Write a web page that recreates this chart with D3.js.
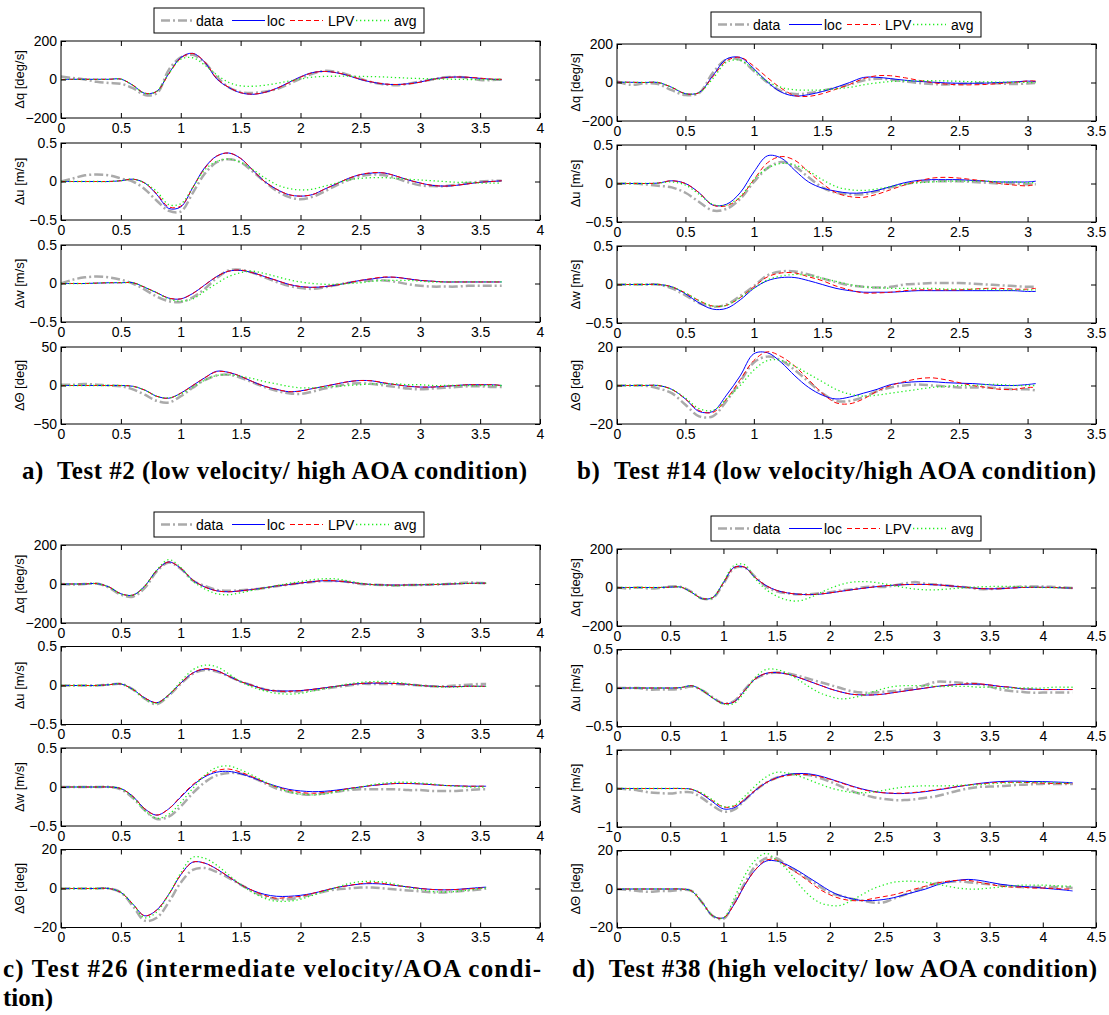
<!DOCTYPE html>
<html>
<head>
<meta charset="utf-8">
<script src="https://cdn.jsdelivr.net/npm/d3@7"></script>
<style>
  body { margin: 0; background: #fff; }
  svg text { font-family: "Liberation Sans", Arial, Helvetica, sans-serif; }
  .caption { font-family: "Liberation Serif", "Times New Roman", serif; font-weight: bold; white-space: pre; }
</style>
</head>
<body>
<script>
// ---- sample instants (s), one list per test ----
var tA = d3.range(37).map(function (i) { return i / 10; }).concat([3.68]);
var tB = d3.range(31).map(function (i) { return i / 10; }).concat([3.06]);
var tC = d3.range(36).map(function (i) { return i / 10; }).concat([3.55]);
var tD = d3.range(43).map(function (i) { return i / 10; }).concat([4.28]);

// series order in every list below: data, loc, LPV, avg
var seriesNames = ["data", "loc", "LPV", "avg"];
var yLabels = ["\u0394q [deg/s]", "\u0394u [m/s]", "\u0394w [m/s]", "\u0394\u0398 [deg]"];

// axis limits (symmetric) for q, u, w, Theta
var yLimA = [200, 0.5, 0.5, 50];
var yLimB = [200, 0.5, 0.5, 20];
var yLimC = [200, 0.5, 0.5, 20];
var yLimD = [200, 0.5, 1, 20];
var xMaxA = 4, xMaxB = 3.5, xMaxC = 4, xMaxD = 4.5;

// ---- Test #2 ----
var aQ = [
  [15,8,0,-12,-18,-22,-45,-80,-72,50,115,128,88,15,-40,-65,-70,-63,-50,-25,5,30,45,40,24,4,-15,-25,-30,-22,-10,0,12,13,8,-3,-3,0],
  [0,1,1,1,1,2,-30,-72,-61,31,114,136,90,3,-41,-69,-77,-67,-46,-16,14,36,42,35,20,0,-14,-24,-26,-22,-13,1,10,13,11,6,1,-1],
  [0,1,1,1,1,2,-29,-71,-62,28,111,135,92,6,-40,-68,-76,-67,-47,-18,12,35,42,36,21,2,-13,-23,-26,-23,-14,0,9,13,12,7,2,0],
  [0,1,1,1,1,2,-30,-72,-61,31,105,113,75,25,-15,-33,-35,-30,-20,-8,3,12,16,17,17,16,15,13,10,7,5,3,2,1,0,0,0,0]
];
var aU = [
  [0,0.04,0.08,0.09,0.08,0.04,0,-0.1,-0.25,-0.38,-0.39,-0.15,0.1,0.25,0.29,0.25,0.13,0,-0.12,-0.2,-0.23,-0.2,-0.13,-0.05,0.02,0.07,0.09,0.08,0.04,-0.01,-0.05,-0.06,-0.06,-0.04,-0.02,0,0.01,0.01],
  [0,0,0,0,0,0.01,0.03,-0.02,-0.17,-0.35,-0.33,-0.08,0.18,0.33,0.37,0.3,0.15,0,-0.1,-0.17,-0.19,-0.17,-0.1,-0.03,0.04,0.09,0.11,0.11,0.07,0.02,-0.02,-0.05,-0.06,-0.05,-0.03,-0.01,0,0.01],
  [0,0,0,0,0,0.01,0.03,-0.02,-0.16,-0.33,-0.32,-0.08,0.17,0.33,0.37,0.3,0.15,0,-0.1,-0.17,-0.19,-0.17,-0.1,-0.03,0.04,0.09,0.115,0.11,0.07,0.02,-0.02,-0.05,-0.06,-0.05,-0.03,-0.01,0,0.01],
  [0,0,0,0,0,0.01,0.03,-0.02,-0.13,-0.3,-0.29,-0.08,0.15,0.26,0.29,0.25,0.16,0.05,-0.04,-0.09,-0.11,-0.1,-0.06,-0.02,0.02,0.04,0.05,0.05,0.04,0.03,0.02,0.01,0,-0.01,-0.01,-0.02,-0.02,-0.02]
];
var aW = [
  [0,0.05,0.08,0.09,0.08,0.05,0,-0.08,-0.17,-0.23,-0.24,-0.18,-0.07,0.07,0.17,0.18,0.14,0.08,0.02,-0.03,-0.06,-0.07,-0.05,-0.02,0.01,0.03,0.04,0.04,0.02,-0.01,-0.03,-0.04,-0.04,-0.04,-0.03,-0.03,-0.03,-0.03],
  [0,0,0,0.005,0.01,0.01,0.01,-0.05,-0.12,-0.19,-0.2,-0.13,-0.02,0.09,0.16,0.17,0.14,0.09,0.04,-0.01,-0.04,-0.05,-0.04,-0.02,0.01,0.04,0.06,0.08,0.08,0.06,0.04,0.03,0.02,0.02,0.02,0.02,0.02,0.02],
  [0,0,0,0.005,0.01,0.01,0.01,-0.05,-0.12,-0.19,-0.2,-0.13,-0.02,0.09,0.16,0.175,0.14,0.09,0.04,-0.01,-0.04,-0.05,-0.04,-0.02,0.01,0.04,0.065,0.085,0.08,0.06,0.04,0.03,0.02,0.02,0.02,0.02,0.02,0.02],
  [0,0,0,0.005,0.01,0.01,0.01,-0.05,-0.12,-0.2,-0.23,-0.2,-0.1,0,0.09,0.14,0.16,0.13,0.09,0.05,0.02,0,-0.01,-0.01,0,0.01,0.03,0.04,0.04,0.04,0.03,0.02,0.02,0.02,0.02,0.02,0.02,0.02]
];
var aTh = [
  [1,1,2,1,0,-1,-5,-12,-20,-22,-14,-3,7,13,14,10,4,-2,-7,-10,-11,-8,-4,-1,2,3,2,0,-2,-4,-5,-4,-3,-2,-1,-1,-2,-2],
  [0,0,0,0,0,0,-1,-6,-14,-16.5,-10,0,10,18.5,17,12,5,-1,-5,-8,-7,-4,-1,2,5,6.5,6,3,1,-1,-2,-2,-1,0,1,1,1,0],
  [0,0,0,0,0,0,-1,-6,-14,-16.5,-10,0,10,18,17,12,5,-1,-5,-8,-7.5,-4,-1,2,5,6.5,6,3.5,1,-1,-2,-2,-1,0,1,1,1,0],
  [0,0,0,0,0,0,-1,-6,-14,-16,-11,-2,7,13,14,12,9,5,2,-1,-3,-3,-2,-1,0,1,2,2,2,1,1,0,0,0,0,0,0,0]
];

// ---- Test #14 ----
var bQ = [
  [5,-12,-5,-8,-40,-65,-55,50,120,118,60,0,-45,-60,-55,-42,-28,-10,10,20,15,5,-2,-8,-10,-8,-5,-3,-5,-8,-5,-2],
  [2,1,0,0,-25,-58,-52,35,122,130,72,2,-50,-70,-63,-47,-25,0,26,27,20,12,6,2,-2,-4,-4,-3,0,3,7,5],
  [2,1,0,0,-25,-58,-53,30,112,131,85,25,-30,-68,-72,-58,-35,-10,20,35,35,25,12,0,-8,-12,-12,-10,-5,0,8,8],
  [2,1,0,0,-25,-58,-52,20,105,115,65,5,-25,-38,-40,-38,-33,-25,-12,-2,5,8,9,9,8,6,4,3,2,1,0,0]
];
var bU = [
  [0,0,-0.01,-0.03,-0.05,-0.12,-0.24,-0.35,-0.33,-0.2,0.02,0.2,0.28,0.22,0.08,-0.05,-0.12,-0.14,-0.14,-0.1,-0.05,-0.01,0.02,0.03,0.03,0.03,0.02,0.01,0,0,-0.01,-0.01],
  [0,0,0,0.005,0.035,0,-0.12,-0.28,-0.27,-0.12,0.15,0.36,0.33,0.17,0.02,-0.06,-0.1,-0.125,-0.12,-0.09,-0.04,0.01,0.04,0.05,0.05,0.05,0.04,0.03,0.02,0.02,0.02,0.03],
  [0,0,0,0.005,0.035,0,-0.12,-0.28,-0.29,-0.18,0.05,0.27,0.35,0.3,0.15,0,-0.12,-0.17,-0.18,-0.14,-0.08,-0.02,0.03,0.07,0.08,0.07,0.05,0.03,0,-0.02,-0.03,-0.01],
  [0,0,0,0.005,0.02,-0.02,-0.14,-0.27,-0.28,-0.17,0.05,0.2,0.26,0.24,0.16,0.05,-0.04,-0.08,-0.09,-0.07,-0.04,-0.01,0.01,0.02,0.03,0.03,0.03,0.03,0.02,0.02,0.01,0.01]
];
var bW = [
  [0,0,0,0,-0.05,-0.14,-0.24,-0.29,-0.26,-0.15,-0.02,0.12,0.17,0.17,0.13,0.08,0.03,-0.01,-0.03,-0.04,-0.03,0,0.01,0.02,0.02,0.02,0.01,0,-0.01,-0.02,-0.03,-0.03],
  [0,0,0,0,-0.03,-0.12,-0.24,-0.32,-0.31,-0.2,-0.05,0.05,0.09,0.09,0.05,0,-0.05,-0.08,-0.1,-0.1,-0.1,-0.09,-0.08,-0.08,-0.08,-0.08,-0.08,-0.08,-0.08,-0.08,-0.09,-0.09],
  [0,0,0,0,-0.03,-0.11,-0.21,-0.28,-0.27,-0.17,-0.03,0.1,0.15,0.15,0.1,0.05,-0.02,-0.07,-0.11,-0.11,-0.1,-0.08,-0.07,-0.07,-0.07,-0.07,-0.06,-0.05,-0.05,-0.06,-0.06,-0.05],
  [0,0,0,0,-0.03,-0.11,-0.21,-0.28,-0.27,-0.17,-0.05,0.06,0.11,0.13,0.12,0.08,0.04,0,-0.03,-0.04,-0.05,-0.05,-0.05,-0.05,-0.06,-0.06,-0.06,-0.06,-0.07,-0.07,-0.07,-0.07]
];
var bTh = [
  [0,0,0,-1.5,-4,-10,-16,-16,-8,2,12,15,13,8,2,-4,-8,-8,-6,-3,-1,0,0.5,0,-0.5,-1,-1,-1,-1.5,-2,-2,-2.5],
  [0,0,0,0,-2,-7,-13.5,-13.5,-5,5,16.5,17,12,5,-1,-5,-7,-6,-4,-2,0.5,1.5,2,2,1.5,1.2,1,0.5,0,0,0.5,1],
  [0,0,0,0,-2,-7,-13,-14,-7,3,13,17.5,15,10,3,-4,-9,-9.5,-7,-3,0,2,3.5,4,3,1.5,0,-1,-2,-2,-1,-1],
  [0,0,0,0,-2,-6.5,-12,-13,-7,0,8,13,13,10,6,2,-2,-4.5,-5.5,-5,-4,-3,-2,-1,-0.5,0,0,0.5,0.5,0,0,0]
];

// ---- Test #26 ----
var cQ = [
  [0,-3,0,2,-18,-55,-65,-20,65,110,78,18,-10,-30,-35,-32,-28,-20,-12,-3,5,10,15,15,10,0,-3,-6,-8,-5,-5,-3,-1,3,8,5,4],
  [0,0,0,2,-15,-50,-57,-10,70,113,80,20,-15,-35,-40,-35,-28,-20,-10,-3,5,12,17,15,10,2,-3,-5,-6,-5,-4,-3,-1,1,3,4,4],
  [0,0,0,2,-15,-50,-57,-11,69,113,81,21,-15,-35,-40,-35,-28,-20,-10,-3,5,12,18,16,10,2,-3,-5,-6,-5,-4,-3,-1,1,3,4,4],
  [0,0,0,2,-15,-50,-57,-10,72,125,85,15,-25,-50,-55,-45,-32,-20,-8,3,13,22,27,26,15,4,-3,-6,-8,-6,-4,-2,0,2,3,4,4]
];
var cU = [
  [0,0,0,0,0.01,0.02,-0.05,-0.17,-0.24,-0.13,0.02,0.15,0.2,0.18,0.12,0.05,0,-0.05,-0.07,-0.08,-0.075,-0.06,-0.04,-0.02,0,0.02,0.02,0.02,0.02,0.01,0,-0.01,-0.01,0,0.01,0.02,0.02],
  [0,0,0,0,0.01,0.02,-0.05,-0.16,-0.22,-0.12,0.03,0.16,0.21,0.19,0.12,0.05,0,-0.05,-0.07,-0.07,-0.065,-0.05,-0.03,-0.01,0.01,0.025,0.03,0.03,0.025,0.015,0,-0.01,-0.015,-0.015,-0.01,-0.01,-0.01],
  [0,0,0,0,0.01,0.02,-0.05,-0.16,-0.22,-0.12,0.03,0.16,0.215,0.19,0.12,0.05,0,-0.05,-0.07,-0.075,-0.065,-0.05,-0.03,-0.01,0.01,0.025,0.035,0.03,0.025,0.015,0,-0.01,-0.015,-0.015,-0.01,-0.01,-0.01],
  [0,0,0,0,0.01,0.02,-0.05,-0.17,-0.23,-0.12,0.05,0.2,0.26,0.24,0.15,0.05,-0.02,-0.07,-0.1,-0.11,-0.1,-0.07,-0.04,-0.01,0.02,0.04,0.05,0.05,0.04,0.02,0,-0.01,-0.02,-0.02,-0.01,-0.01,-0.01]
];
var cW = [
  [0,0,0,0,0,-0.03,-0.14,-0.3,-0.41,-0.38,-0.25,-0.08,0.06,0.15,0.18,0.17,0.12,0.05,-0.02,-0.06,-0.09,-0.1,-0.08,-0.06,-0.04,-0.03,-0.03,-0.03,-0.03,-0.04,-0.04,-0.05,-0.05,-0.05,-0.04,-0.03,-0.03],
  [0,0,0,0,0,-0.02,-0.12,-0.28,-0.36,-0.28,-0.13,0.02,0.13,0.19,0.2,0.17,0.12,0.06,0.01,-0.03,-0.05,-0.06,-0.055,-0.04,-0.02,0,0.02,0.035,0.045,0.045,0.04,0.03,0.02,0.015,0.01,0.01,0.01],
  [0,0,0,0,0,-0.02,-0.12,-0.28,-0.36,-0.28,-0.12,0.03,0.14,0.21,0.23,0.19,0.13,0.06,0,-0.04,-0.07,-0.08,-0.07,-0.05,-0.02,0,0.02,0.035,0.045,0.045,0.04,0.03,0.02,0.015,0.01,0.01,0.01],
  [0,0,0,0,0,-0.02,-0.13,-0.3,-0.4,-0.35,-0.2,-0.02,0.15,0.25,0.27,0.22,0.15,0.07,0,-0.06,-0.09,-0.1,-0.09,-0.06,-0.03,0,0.03,0.05,0.06,0.06,0.05,0.04,0.02,0.01,0,0,0]
];
var cTh = [
  [0,0,0,0,0,-2,-9,-16.5,-15,-7,3,9.5,10.5,8.5,5.5,2,-1.5,-4,-5.5,-5.5,-4.5,-3,-1.5,-0.5,0,0.5,0.5,0,-0.5,-1,-1.5,-2,-2,-1.5,-1,-0.5,0],
  [0,0,0,0,0,-2,-8,-14,-11,-3,7,13.5,13,10,6,2,-1,-3,-4,-4,-3.5,-2.5,-1,0.5,1.5,2.3,2.5,2.2,1.5,0.8,0,-0.5,-0.7,-0.5,0,0.5,0.7],
  [0,0,0,0,0,-2,-8,-14,-11,-3,7,13.5,13,10,6,2,-1,-3.5,-5,-4.5,-4,-2.5,-1,0.5,1.5,2.5,3,2.5,1.5,0.8,0,-0.5,-0.7,-0.5,-0.2,0.2,0.5],
  [0,0,0,0,0,-2,-8,-15,-12,-3,8,16,15.5,12,7,2,-2,-5,-6.5,-6.5,-5.5,-3.5,-1.5,0.5,2.5,3.5,3.7,3.2,2,0.5,-0.5,-1.5,-1.8,-1.5,-0.8,0,0.3]
];

// ---- Test #38 ----
var dQ = [
  [0,-5,0,-5,-2,5,3,-22,-58,-55,20,100,103,55,5,-20,-30,-35,-35,-30,-25,-15,-10,0,5,3,10,20,28,20,15,10,5,0,-8,-8,-5,0,5,5,5,3,0,-2],
  [0,0,0,0,0,2,2,-25,-58,-52,25,105,105,50,10,-15,-28,-35,-37,-35,-28,-20,-12,-5,2,8,12,15,16,16,14,10,5,0,-5,-7,-6,-3,0,1,1,0,-2,-3],
  [0,0,0,0,0,2,2,-25,-57,-52,24,103,106,52,10,-15,-28,-35,-37,-34,-28,-20,-12,-5,2,8,12,15,16,16,14,10,5,0,-5,-7,-6,-3,0,1,1,0,-2,-3],
  [0,0,0,0,0,2,2,-25,-58,-52,30,115,118,45,-10,-45,-65,-70,-55,-30,-5,15,27,31,28,20,10,0,-8,-12,-12,-8,-4,0,3,5,6,6,4,2,0,-1,-2,-2]
];
var dU = [
  [0,0,0,-0.02,-0.02,-0.02,-0.01,0.02,-0.03,-0.12,-0.2,-0.17,-0.02,0.12,0.18,0.2,0.19,0.16,0.12,0.08,0.04,0,-0.04,-0.06,-0.06,-0.05,-0.04,-0.02,0,0.04,0.08,0.08,0.07,0.06,0.05,0.02,-0.02,-0.04,-0.05,-0.06,-0.06,-0.06,-0.06,-0.06],
  [0,0,0,0,0,0,0.005,0.03,-0.03,-0.13,-0.2,-0.18,-0.03,0.12,0.19,0.2,0.18,0.14,0.09,0.04,-0.01,-0.05,-0.08,-0.09,-0.09,-0.08,-0.06,-0.04,-0.02,0,0.02,0.035,0.045,0.05,0.05,0.04,0.02,0.01,-0.01,-0.015,-0.02,-0.02,-0.02,-0.02],
  [0,0,0,0,0,0,0.005,0.03,-0.03,-0.13,-0.2,-0.18,-0.03,0.12,0.19,0.2,0.18,0.14,0.09,0.04,-0.01,-0.05,-0.08,-0.09,-0.09,-0.08,-0.06,-0.04,-0.02,0,0.02,0.035,0.045,0.055,0.055,0.04,0.02,0.01,-0.01,-0.015,-0.02,-0.02,-0.02,-0.02],
  [0,0,0,0,0,0,0.005,0.03,-0.03,-0.13,-0.21,-0.2,-0.05,0.14,0.24,0.24,0.19,0.11,0.02,-0.06,-0.11,-0.14,-0.13,-0.1,-0.05,-0.01,0.02,0.03,0.03,0.03,0.02,0.02,0.02,0.02,0.01,0.01,0,0,0,0,0,0.01,0.01,0.01]
];
var dW = [
  [0,-0.02,-0.05,-0.1,-0.12,-0.13,-0.1,-0.1,-0.25,-0.45,-0.6,-0.55,-0.3,-0.05,0.15,0.28,0.35,0.37,0.35,0.28,0.18,0.06,-0.06,-0.15,-0.22,-0.27,-0.3,-0.3,-0.28,-0.24,-0.2,-0.13,-0.06,0,0.04,0.05,0.06,0.08,0.1,0.11,0.12,0.12,0.12,0.12],
  [0,0,0,0,0,0,0,-0.02,-0.15,-0.35,-0.53,-0.5,-0.3,-0.05,0.15,0.28,0.36,0.39,0.38,0.33,0.25,0.16,0.07,-0.01,-0.07,-0.11,-0.13,-0.13,-0.11,-0.08,-0.04,0,0.05,0.09,0.13,0.16,0.18,0.19,0.19,0.18,0.18,0.17,0.16,0.15],
  [0,0,0,0,0,0,0,-0.02,-0.14,-0.32,-0.48,-0.46,-0.28,-0.04,0.15,0.27,0.34,0.37,0.36,0.31,0.24,0.15,0.06,-0.02,-0.08,-0.11,-0.12,-0.12,-0.1,-0.07,-0.03,0.01,0.05,0.09,0.12,0.14,0.16,0.16,0.16,0.15,0.14,0.13,0.13,0.12],
  [0,0,0,0,0,0,0,-0.02,-0.12,-0.3,-0.47,-0.44,-0.2,0.07,0.3,0.42,0.4,0.33,0.23,0.12,0.02,-0.05,-0.1,-0.11,-0.09,-0.05,0,0.04,0.06,0.07,0.07,0.07,0.08,0.09,0.1,0.12,0.14,0.15,0.16,0.16,0.16,0.15,0.14,0.14]
];
var dTh = [
  [0,-0.5,-1,-1.5,-1,-1,-0.5,-1,-7,-14,-15.5,-7,3,12,16,16,12,8.5,5,1.5,-2,-3.5,-5,-6,-7,-7,-5,-3,-1,1,3,3.5,4,3.5,3,2.5,2,1.5,1,1,1,1,1,0.5],
  [0,0,0,0,0,0,0,-1,-7,-14,-15,-8,2,10,14.5,14.5,12.5,9.5,6,2.5,-1,-3.5,-5,-6,-6,-5.5,-4.5,-3,-1.5,0,2,3.5,4.5,5,4.5,3.5,2.5,1.8,1.3,1,0.5,0,-0.5,-1],
  [0,0,0,0,0,0,0,-1,-7,-14,-15,-8,2,10,15,15,11.5,8,4,0,-3,-5,-6,-6,-5,-4,-3,-1.5,0,1.5,3,4,4.5,4.5,3.5,2.5,1.5,1,1,0.5,0.5,0.3,0,0],
  [0,0,0,0,0,0,0,-1,-7,-14,-15,-5,7,15,18.5,15,10,3,-3,-7,-8.5,-8.5,-6,-3,0,2,3.5,4,4,3.5,2.5,1.5,0.5,0,0,0.5,1,1.5,2,2,2,1.8,1.5,1.5]
];

var captionA = "a)  Test #2 (low velocity/ high AOA condition)";
var captionB = "b)  Test #14 (low velocity/high AOA condition)";
var captionC1 = "c) Test #26 (intermediate velocity/AOA condi-";
var captionC2 = "tion)";
var captionD = "d)  Test #38 (high velocity/ low AOA condition)";

// ---- styles ----
var seriesStyle = [
  { color: "#aaaaaa", width: 2.5, dash: "9,3,2,3" },
  { color: "#0000ff", width: 1, dash: null },
  { color: "#ff0000", width: 1, dash: "5,3" },
  { color: "#22ee22", width: 1.3, dash: "1.3,2.7" }
];

var panels = [
  { t: tA, xMax: xMaxA, yLim: yLimA, subs: [aQ, aU, aW, aTh], x0: 61, x1: 540, top: 41, pitch: 102, h: 77, legX: 154, legY: 8 },
  { t: tB, xMax: xMaxB, yLim: yLimB, subs: [bQ, bU, bW, bTh], x0: 617, x1: 1096, top: 44, pitch: 101, h: 77, legX: 711, legY: 12 },
  { t: tC, xMax: xMaxC, yLim: yLimC, subs: [cQ, cU, cW, cTh], x0: 61, x1: 540, top: 545, pitch: 101.5, h: 78, legX: 154, legY: 512 },
  { t: tD, xMax: xMaxD, yLim: yLimD, subs: [dQ, dU, dW, dTh], x0: 617, x1: 1096, top: 549, pitch: 100.5, h: 77, legX: 711, legY: 516 }
];

var svg = d3.select("body").append("svg")
  .attr("width", 1109)
  .attr("height", 1015)
  .style("display", "block");

svg.append("rect").attr("width", 1109).attr("height", 1015).attr("fill", "#fff");

var fmt = d3.format("~g");

function styleAxis(sel, size) {
  sel.select(".domain").remove();
  sel.attr("font-size", size).attr("font-family", null);
  sel.selectAll("line").attr("stroke", "#000").attr("stroke-width", 1);
  sel.selectAll("text").attr("fill", "#000");
}

panels.forEach(function (p) {
  var x = d3.scaleLinear().domain([0, p.xMax]).range([p.x0, p.x1]);
  var xTicks = d3.range(0, p.xMax + 0.01, 0.5);

  p.subs.forEach(function (sub, k) {
    var top = p.top + k * p.pitch;
    var bottom = top + p.h;
    var lim = p.yLim[k];
    var y = d3.scaleLinear().domain([-lim, lim]).range([bottom, top]);
    var g = svg.append("g");

    // series lines
    var line = d3.line()
      .defined(function (d, i) { return i < p.t.length; })
      .x(function (d, i) { return x(p.t[i]); })
      .y(function (d) { return y(d); })
      .curve(d3.curveCatmullRom.alpha(0.5));

    sub.forEach(function (vals, s) {
      var st = seriesStyle[s];
      g.append("path")
        .attr("d", line(vals))
        .attr("fill", "none")
        .attr("stroke", st.color)
        .attr("stroke-width", st.width)
        .attr("stroke-dasharray", st.dash)
        .attr("stroke-linejoin", "round");
    });

    // axes, MATLAB style: inward ticks on all four sides
    g.append("g")
      .attr("transform", "translate(0," + bottom + ")")
      .call(d3.axisBottom(x).tickValues(xTicks).tickSizeInner(-5).tickSizeOuter(0).tickPadding(5).tickFormat(fmt))
      .call(styleAxis, 14);
    g.append("g")
      .attr("transform", "translate(0," + top + ")")
      .call(d3.axisTop(x).tickValues(xTicks).tickSizeInner(-5).tickSizeOuter(0).tickFormat(""))
      .call(styleAxis, 14);
    g.append("g")
      .attr("transform", "translate(" + p.x0 + ",0)")
      .call(d3.axisLeft(y).tickValues([-lim, 0, lim]).tickSizeInner(-5).tickSizeOuter(0).tickPadding(4).tickFormat(fmt))
      .call(styleAxis, 14);
    g.append("g")
      .attr("transform", "translate(" + p.x1 + ",0)")
      .call(d3.axisRight(y).tickValues([-lim, 0, lim]).tickSizeInner(-5).tickSizeOuter(0).tickFormat(""))
      .call(styleAxis, 14);

    g.append("rect")
      .attr("x", p.x0).attr("y", top)
      .attr("width", p.x1 - p.x0).attr("height", p.h)
      .attr("fill", "none").attr("stroke", "#000").attr("stroke-width", 1);

    g.append("text")
      .attr("transform", "translate(" + (p.x0 - 42) + "," + (top + p.h / 2) + ") rotate(-90)")
      .attr("text-anchor", "middle")
      .attr("dy", "0.35em")
      .attr("font-size", 13)
      .text(yLabels[k]);
  });

  // legend
  var leg = svg.append("g").attr("transform", "translate(" + p.legX + "," + p.legY + ")");
  leg.append("rect").attr("width", 270).attr("height", 25)
    .attr("fill", "#fff").attr("stroke", "#000").attr("stroke-width", 1);
  var lineStart = [7, 78, 136, 202];
  var textStart = [42, 113, 174, 240];
  seriesNames.forEach(function (name, s) {
    var st = seriesStyle[s];
    leg.append("line")
      .attr("x1", lineStart[s]).attr("x2", lineStart[s] + 33)
      .attr("y1", 12.5).attr("y2", 12.5)
      .attr("stroke", st.color).attr("stroke-width", st.width)
      .attr("stroke-dasharray", st.dash);
    leg.append("text")
      .attr("x", textStart[s]).attr("y", 17.5)
      .attr("font-size", 14)
      .text(name);
  });
});

// captions
function caption(txt, x, y, len) {
  var t = svg.append("text")
    .attr("class", "caption")
    .attr("x", x).attr("y", y)
    .attr("font-size", 25)
    .text(txt);
  if (len) t.attr("textLength", len).attr("lengthAdjust", "spacing");
}
caption(captionA, 22, 479, 505);
caption(captionB, 577, 479, 519);
caption(captionC1, 3, 977, 538);
caption(captionC2, 3, 1006, null);
caption(captionD, 572, 977, 525);
</script>
</body>
</html>
